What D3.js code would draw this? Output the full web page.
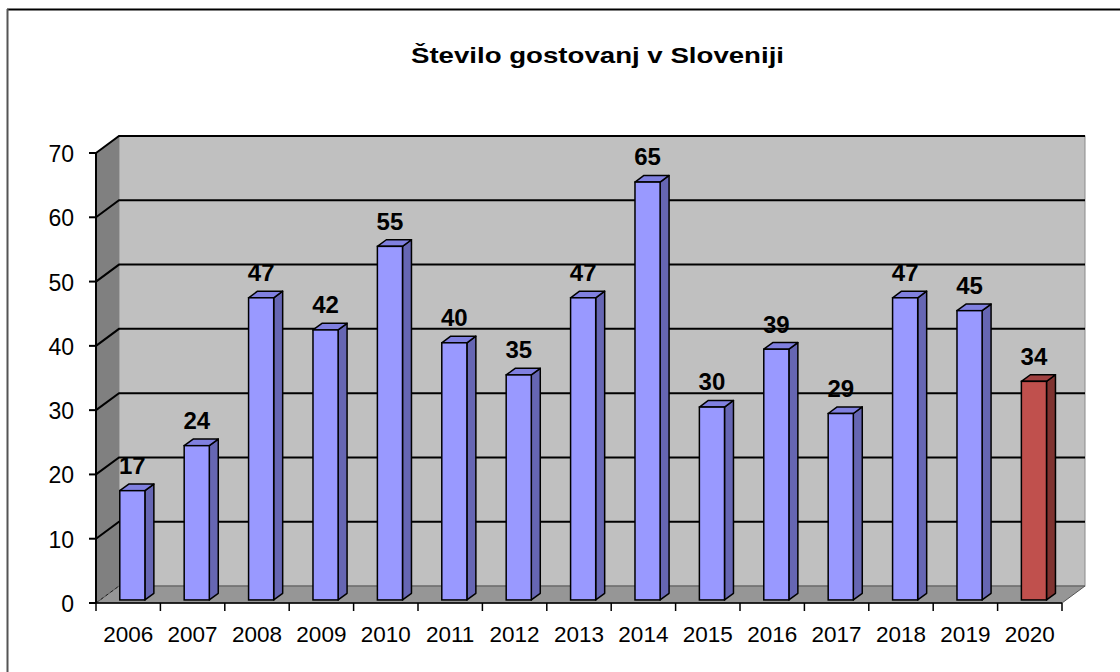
<!DOCTYPE html>
<html>
<head>
<meta charset="utf-8">
<script src="https://cdn.jsdelivr.net/npm/d3@7"></script>
<style>
  body { margin: 0; background: #fff; }
  svg { display: block; font-family: Arial, "Liberation Sans", sans-serif; }
</style>
</head>
<body>
<svg id="chart" width="1120" height="672"></svg>
<script>
// data
const years = ["2006","2007","2008","2009","2010","2011","2012","2013","2014","2015","2016","2017","2018","2019","2020"];
const counts = [17, 24, 47, 42, 55, 40, 35, 47, 65, 30, 39, 29, 47, 45, 34];
const highlight = ["2020"];
const yTicks = [0, 10, 20, 30, 40, 50, 60, 70];
const title = "Število gostovanj v Sloveniji";

const svg = d3.select("#chart");

// 3d depth of the plot box
const depthX = 23, depthY = -17;
const f1 = 0.18, f2 = 0.57; // bar depth inside box

const x = d3.scaleBand().domain(years).range([96, 1062]);
const y = d3.scaleLinear().domain([0, 70]).range([603, 153]);

// frame
svg.append("line").attr("x1", 7).attr("x2", 1120).attr("y1", 9.5).attr("y2", 9.5)
  .attr("stroke", "#000").attr("stroke-width", 2);
svg.append("line").attr("x1", 7.5).attr("x2", 7.5).attr("y1", 9).attr("y2", 672)
  .attr("stroke", "#555").attr("stroke-width", 2);

// title
svg.append("text").attr("x", 411).attr("y", 63)
  .attr("textLength", 373).attr("lengthAdjust", "spacingAndGlyphs")
  .style("font-size", "22px").style("font-weight", "bold").text(title);

const x0 = x.range()[0], x1 = x.range()[1];
const yb = y(0), yt = y(70);

// back wall
svg.append("rect").attr("x", x0 + depthX).attr("y", yt + depthY)
  .attr("width", x1 - x0).attr("height", yb - yt)
  .attr("fill", "#c0c0c0").attr("stroke", "#8a8a8a").attr("stroke-width", 1);

// left wall
svg.append("path")
  .attr("d", d3.line()([[x0, yt], [x0 + depthX, yt + depthY], [x0 + depthX, yb + depthY], [x0, yb]]))
  .attr("fill", "#808080");

// floor
svg.append("path")
  .attr("d", d3.line()([[x0, yb], [x1, yb], [x1 + depthX, yb + depthY], [x0 + depthX, yb + depthY]]) + "Z")
  .attr("fill", "#969696").attr("stroke", "#555").attr("stroke-width", 1);
svg.append("line").attr("x1", x0).attr("y1", yb).attr("x2", x0 + depthX).attr("y2", yb + depthY)
  .attr("stroke", "#222").attr("stroke-dasharray", "3,3");

// gridlines
yTicks.filter(t => t > 0).forEach(t => {
  svg.append("path")
    .attr("d", d3.line()([[x0, y(t)], [x0 + depthX, y(t) + depthY], [x1 + depthX, y(t) + depthY]]))
    .attr("fill", "none").attr("stroke", "#000").attr("stroke-width", 2);
});

// y axis
svg.append("line").attr("x1", x0).attr("x2", x0).attr("y1", yt).attr("y2", yb)
  .attr("stroke", "#000").attr("stroke-width", 2);
svg.append("line").attr("x1", x0).attr("x2", x1).attr("y1", yb).attr("y2", yb)
  .attr("stroke", "#000").attr("stroke-width", 1.5);
const yAxis = svg.append("g");
yTicks.forEach(t => {
  yAxis.append("line").attr("x1", x0 - 7).attr("x2", x0).attr("y1", y(t)).attr("y2", y(t))
    .attr("stroke", "#000").attr("stroke-width", 2);
  yAxis.append("text").attr("x", 74).attr("y", y(t) + 9).attr("text-anchor", "end")
    .style("font-size", "23px").text(t);
});

// x axis
const xAxis = svg.append("g");
years.concat(["end"]).forEach((c, i) => {
  const xx = x0 + i * x.step();
  xAxis.append("line").attr("x1", xx).attr("x2", xx).attr("y1", yb).attr("y2", yb + 8)
    .attr("stroke", "#000").attr("stroke-width", 1.5);
});
years.forEach(c => {
  xAxis.append("text").attr("x", x(c) + x.bandwidth() / 2).attr("y", 642)
    .attr("text-anchor", "middle").style("font-size", "22.5px").text(c);
});

// bars
const bw = x.bandwidth() * 0.39;
const bdx = (f2 - f1) * depthX, bdy = (f2 - f1) * depthY;
const bars = svg.append("g").selectAll("g").data(years).join("g");
bars.each(function(c, i) {
  const g = d3.select(this);
  const v = counts[i];
  const red = highlight.includes(c);
  const front = red ? "#c0504d" : "#9999ff";
  const side = red ? "#7f3330" : "#6666b3";
  const top = red ? "#a04040" : "#8080e0";
  const bx = x(c) + x.bandwidth() / 2 - bw / 2 + f1 * depthX;
  const by0 = y(0) + f1 * depthY;
  const by1 = y(v) + f1 * depthY;
  // side
  g.append("path").attr("d", d3.line()([[bx + bw, by1], [bx + bw + bdx, by1 + bdy], [bx + bw + bdx, by0 + bdy], [bx + bw, by0]]) + "Z")
    .attr("fill", side).attr("stroke", "#000").attr("stroke-width", 1.5).attr("stroke-linejoin", "round");
  // top
  g.append("path").attr("d", d3.line()([[bx, by1], [bx + bdx, by1 + bdy], [bx + bw + bdx, by1 + bdy], [bx + bw, by1]]) + "Z")
    .attr("fill", top).attr("stroke", "#000").attr("stroke-width", 1.5).attr("stroke-linejoin", "round");
  // front
  g.append("rect").attr("x", bx).attr("y", by1).attr("width", bw).attr("height", by0 - by1)
    .attr("fill", front).attr("stroke", "#000").attr("stroke-width", 1.5);
  // label
  g.append("text").attr("x", bx + bw / 2).attr("y", by1 + bdy - 10)
    .attr("text-anchor", "middle").style("font-size", "24px").style("font-weight", "bold")
    .text(v);
});
</script>
</body>
</html>
